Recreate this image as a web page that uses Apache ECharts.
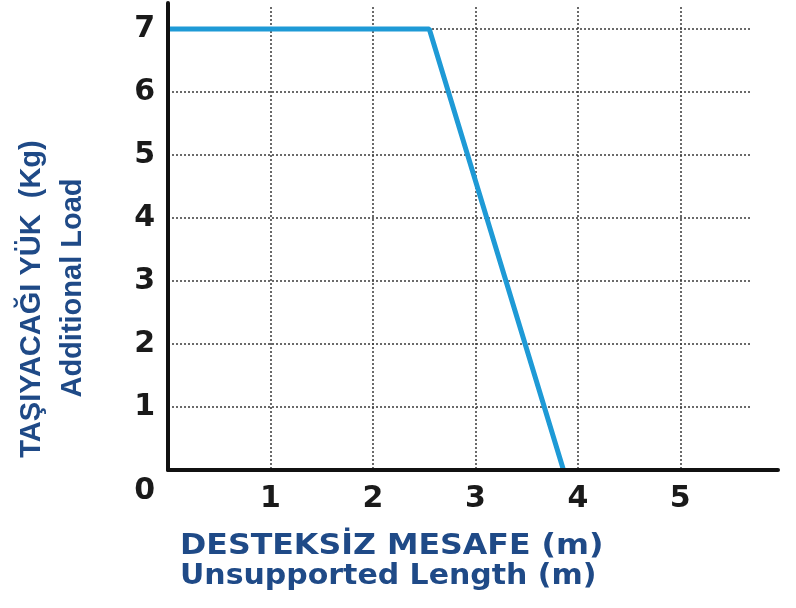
<!DOCTYPE html>
<html>
<head>
<meta charset="utf-8">
<script src="https://cdn.jsdelivr.net/npm/echarts@6/dist/echarts.min.js"></script>
<style>html,body{margin:0;padding:0;background:#fff;}#c{width:796px;height:608px;}</style>
</head>
<body>
<div id="c"></div>
<script>
// Data
const lengthM = [0, 2.55, 3.86];      // Unsupported length (m)
const loadKg = [7, 7, 0];             // Additional load (Kg)
const xTickLabels = ['0', '1', '2', '3', '4', '5'];
const yTickLabels = ['0', '1', '2', '3', '4', '5', '6', '7'];
const yTitleLines = ['TAŞIYACAĞI YÜK  (Kg)', 'Additional Load'];
const xTitleLines = ['DESTEKSİZ MESAFE (m)', 'Unsupported Length (m)'];

const seriesData = lengthM.map((x, i) => [x, loadKg[i]]);
const titleColor = '#1f4a87';
const digitFont = { fontSize: 30, fontWeight: 'bold', fontFamily: 'DejaVu Sans', color: '#1a1a1a' };
const gridLine = { color: '#3a3a3a', width: 1.5, type: [2, 2] };

const chart = echarts.init(document.getElementById('c'), null, { renderer: 'canvas' });
chart.setOption({
  animation: false,
  backgroundColor: '#ffffff',
  grid: [
    { left: 168, top: 7, right: 44, bottom: 138 },
    { left: 168, top: 3, right: 18, bottom: 138 }
  ],
  xAxis: [
    {
      gridIndex: 0, type: 'value', min: 0, max: 5.7, interval: 1,
      axisLine: { show: false }, axisTick: { show: false },
      splitLine: { show: true, showMinLine: false, showMaxLine: false, lineStyle: gridLine },
      axisLabel: Object.assign({
        margin: 14,
        formatter: v => (v === 0 ? '' : (xTickLabels.indexOf(String(v)) >= 0 ? String(v) : ''))
      }, digitFont)
    },
    {
      gridIndex: 1, type: 'value', min: 0, max: 1, show: true,
      axisLine: { show: true, lineStyle: { color: '#111', width: 4 } },
      axisTick: { show: false }, axisLabel: { show: false }, splitLine: { show: false }, z: 10
    }
  ],
  yAxis: [
    {
      gridIndex: 0, type: 'value', min: 0, max: 7.35, interval: 1,
      axisLine: { show: false }, axisTick: { show: false },
      splitLine: { show: true, showMinLine: false, showMaxLine: false, lineStyle: gridLine },
      axisLabel: Object.assign({
        margin: 13,
        formatter: v => (v === 0 ? '{z|0}' : (yTickLabels.indexOf(String(v)) >= 0 ? String(v) : '')),
        rich: { z: Object.assign({ padding: [42, 0, 0, 0] }, digitFont) }
      }, digitFont)
    },
    {
      gridIndex: 1, type: 'value', min: 0, max: 1, show: true,
      axisLine: { show: true, lineStyle: { color: '#111', width: 4 } },
      axisTick: { show: false }, axisLabel: { show: false }, splitLine: { show: false }, z: 10
    }
  ],
  series: [{
    type: 'line',
    xAxisIndex: 0, yAxisIndex: 0,
    data: seriesData,
    symbol: 'none',
    lineStyle: { color: '#1e9ad6', width: 5 },
    z: 5
  }],
  graphic: [
    { type: 'text', x: 32, y: 299, rotation: Math.PI / 2,
      style: { text: yTitleLines[0], align: 'center', verticalAlign: 'middle', fill: titleColor,
               fontSize: 29, fontWeight: 'bold', fontFamily: 'Liberation Sans' } },
    { type: 'text', x: 73, y: 288, rotation: Math.PI / 2,
      style: { text: yTitleLines[1], align: 'center', verticalAlign: 'middle', fill: titleColor,
               fontSize: 29, fontWeight: 'bold', fontFamily: 'Liberation Sans' } },
    { type: 'text', x: 180, y: 533, scaleX: 1.13,
      style: { text: xTitleLines[0], align: 'left', verticalAlign: 'top', fill: titleColor,
               fontSize: 28, fontWeight: 'bold', fontFamily: 'DejaVu Sans' } },
    { type: 'text', x: 180, y: 563, scaleX: 1.07,
      style: { text: xTitleLines[1], align: 'left', verticalAlign: 'top', fill: titleColor,
               fontSize: 28, fontWeight: 'bold', fontFamily: 'DejaVu Sans' } }
  ]
});
</script>
</body>
</html>
